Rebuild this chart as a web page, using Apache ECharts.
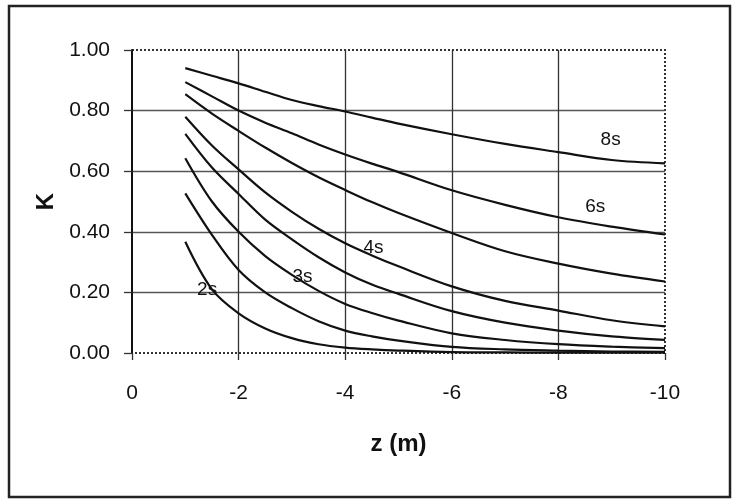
<!DOCTYPE html>
<html>
<head>
<meta charset="utf-8">
<script src="https://cdn.jsdelivr.net/npm/echarts@6/dist/echarts.min.js"></script>
<style>
html,body{margin:0;padding:0;background:#fff;}
#chart{width:739px;height:504px;}
</style>
</head>
<body>
<div id="chart"></div>
<script>
// depth positions (m)
const zValues = [-1, -1.5, -2, -2.5, -3, -3.5, -4, -4.5, -5, -6, -7, -8, -9, -10];
// K curves, from top to bottom
const k8s  = [0.940, 0.915, 0.890, 0.862, 0.835, 0.815, 0.797, 0.777, 0.757, 0.722, 0.690, 0.663, 0.637, 0.626];
const k6s  = [0.894, 0.847, 0.800, 0.760, 0.725, 0.688, 0.655, 0.625, 0.597, 0.537, 0.489, 0.448, 0.417, 0.391];
const k5s  = [0.854, 0.790, 0.733, 0.678, 0.627, 0.580, 0.538, 0.498, 0.462, 0.396, 0.336, 0.295, 0.262, 0.236];
const k4s  = [0.780, 0.685, 0.606, 0.530, 0.466, 0.410, 0.362, 0.322, 0.286, 0.220, 0.172, 0.140, 0.108, 0.088];
const k35s = [0.723, 0.612, 0.525, 0.440, 0.375, 0.316, 0.266, 0.226, 0.195, 0.138, 0.100, 0.074, 0.055, 0.043];
const k3s  = [0.643, 0.500, 0.400, 0.320, 0.258, 0.205, 0.162, 0.132, 0.107, 0.065, 0.043, 0.029, 0.021, 0.016];
const k25s = [0.527, 0.390, 0.274, 0.200, 0.148, 0.105, 0.074, 0.055, 0.041, 0.020, 0.012, 0.008, 0.005, 0.004];
const k2s  = [0.367, 0.210, 0.131, 0.081, 0.049, 0.029, 0.018, 0.012, 0.008, 0.003, 0.002, 0.001, 0.001, 0.001];
const curves = [k8s, k6s, k5s, k4s, k35s, k3s, k25s, k2s];

// curve labels
const labelNames = ['8s', '6s', '4s', '3s', '2s'];
const labelZ = [-8.98, -8.69, -4.53, -3.2, -1.41];
const labelK = [0.703, 0.483, 0.347, 0.25, 0.208];

// axis ticks
const xTicks = [0, -2, -4, -6, -8, -10];
const yTicks = [0, 0.2, 0.4, 0.6, 0.8, 1.0];

const FONT = "'Liberation Sans', Arial, sans-serif";

const series = curves.map(function (arr) {
  return {
    type: 'line',
    data: zValues.map(function (z, i) { return [z, arr[i]]; }),
    smooth: 0.35,
    symbol: 'none',
    lineStyle: { color: '#111', width: 2.2 },
    z: 3
  };
});
series.push({
  type: 'scatter',
  symbolSize: 0,
  itemStyle: { opacity: 1 },
  data: labelNames.map(function (n, i) { return { name: n, value: [labelZ[i], labelK[i]] }; }),
  label: {
    show: true,
    position: 'inside',
    formatter: '{b}',
    color: '#111',
    opacity: 1,
    textBorderWidth: 0,
    fontFamily: FONT,
    fontSize: 19
  },
  z: 4
});

const chart = echarts.init(document.getElementById('chart'), null, { renderer: 'canvas' });
chart.setOption({
  backgroundColor: '#fff',
  animation: false,
  grid: {
    left: 132, right: 74, top: 50, bottom: 151,
    show: true,
    borderColor: '#333',
    borderWidth: 2,
    borderType: 'dotted'
  },
  xAxis: {
    type: 'value',
    min: xTicks[xTicks.length - 1],
    max: xTicks[0],
    interval: 2,
    inverse: true,
    name: 'z (m)',
    nameLocation: 'middle',
    nameGap: 79,
    nameTextStyle: { fontFamily: FONT, fontWeight: 'bold', fontSize: 24, color: '#111' },
    axisLine: { show: false },
    axisTick: { show: true, inside: false, length: 7, lineStyle: { color: '#333', width: 1.3 } },
    axisLabel: { margin: 30, color: '#111', fontFamily: FONT, fontSize: 21 },
    splitLine: { show: true, showMinLine: false, showMaxLine: false, lineStyle: { color: '#333', width: 1.3 } }
  },
  yAxis: {
    type: 'value',
    min: yTicks[0],
    max: yTicks[yTicks.length - 1],
    interval: 0.2,
    name: 'K',
    nameLocation: 'middle',
    nameRotate: 90,
    nameGap: 66,
    nameTextStyle: { fontFamily: FONT, fontWeight: 'bold', fontSize: 24, color: '#111' },
    axisLine: { show: true, lineStyle: { color: '#111', width: 2 } },
    axisTick: { show: true, inside: false, length: 8, lineStyle: { color: '#333', width: 1.3 } },
    axisLabel: {
      margin: 22, color: '#111', fontFamily: FONT, fontSize: 21,
      formatter: function (v) { return v.toFixed(2); }
    },
    splitLine: { show: true, showMinLine: false, showMaxLine: false, lineStyle: { color: '#555', width: 1.3 } }
  },
  graphic: [{
    type: 'rect',
    shape: { x: 9, y: 6, width: 721, height: 491 },
    style: { fill: 'none', stroke: '#222', lineWidth: 2.5 },
    silent: true,
    z: 0
  }],
  series: series
});
</script>
</body>
</html>
